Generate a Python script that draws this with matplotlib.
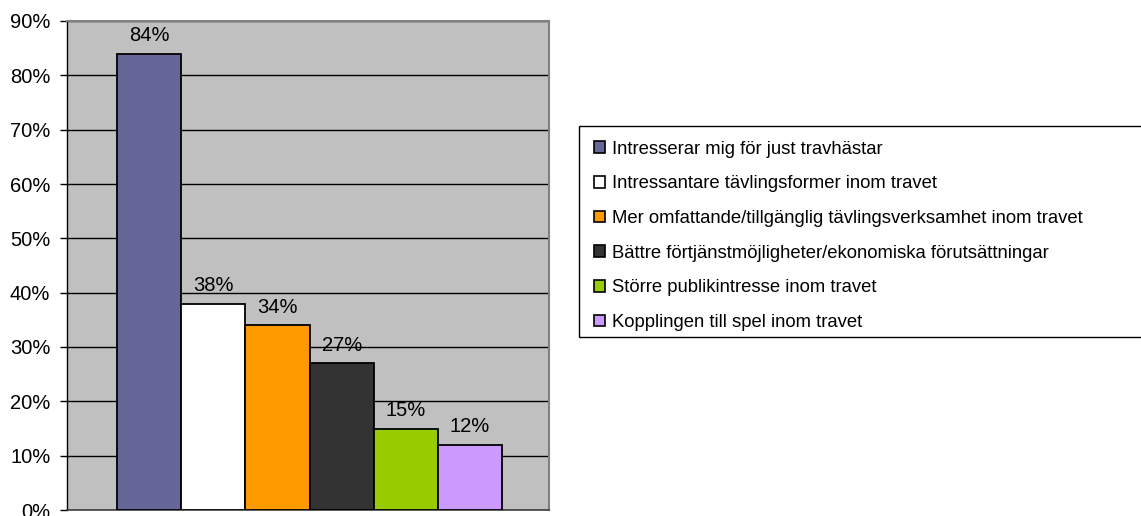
import matplotlib
matplotlib.use("Agg")
import matplotlib.pyplot as plt
from matplotlib.patches import Patch, Rectangle
from matplotlib.ticker import MultipleLocator, FuncFormatter

plt.rcParams['font.family'] = ['Liberation Sans', 'DejaVu Sans']

categories = [
    "Intresserar mig för just travhästar",
    "Intressantare tävlingsformer inom travet",
    "Mer omfattande/tillgänglig tävlingsverksamhet inom travet",
    "Bättre förtjänstmöjligheter/ekonomiska förutsättningar",
    "Större publikintresse inom travet",
    "Kopplingen till spel inom travet",
]
values = [84, 38, 34, 27, 15, 12]
colors = ["#666699", "#FFFFFF", "#FF9900", "#333333", "#99CC00", "#CC99FF"]

W, H = 1141, 516
fig = plt.figure(figsize=(W / 100, H / 100), dpi=100)
ax = fig.add_axes([67 / W, 6 / H, 482 / W, 489 / H])
ax.set_facecolor("#C0C0C0")

x = list(range(len(values)))
ax.bar(x, values, width=1.0, color=colors, edgecolor="black", linewidth=1.3, zorder=3)
for xi, v in zip(x, values):
    ax.text(xi, v + 1.6, f"{v}%", ha="center", va="bottom", fontsize=14.5, zorder=4)

ax.set_xlim(-1.28, 6.23)
ax.set_ylim(0, 90)
ax.yaxis.set_major_locator(MultipleLocator(10))
ax.yaxis.set_major_formatter(FuncFormatter(lambda v, p: f"{v:.0f}%"))
ax.tick_params(axis="y", direction="out", length=5, width=1, labelsize=14.5, pad=7)
ax.set_xticks([])
ax.grid(axis="y", color="black", linewidth=1, zorder=1)

for side in ("top", "right"):
    ax.spines[side].set_color("#808080")
    ax.spines[side].set_linewidth(1.5)
ax.spines["left"].set_color("black")
ax.spines["bottom"].set_color("#404040")
ax.spines["left"].set_linewidth(1)
ax.spines["bottom"].set_linewidth(1.2)

# legend box runs past the right edge of the figure
fig.patches.append(Rectangle((579 / W, 1 - 337 / H), 600 / W, 211 / H,
                             transform=fig.transFigure, facecolor="white",
                             edgecolor="black", linewidth=1, zorder=0))

handles = [Patch(facecolor=c, edgecolor="black", linewidth=1.2) for c in colors]
leg = fig.legend(handles, categories, loc="upper left",
                 bbox_to_anchor=(579 / W, 1 - 126 / H),
                 fontsize=13.3, frameon=False,
                 handlelength=0.6, handleheight=0.6,
                 handletextpad=0.4, labelspacing=0.957, borderpad=0.79,
                 borderaxespad=0)

fig.savefig("out.png", dpi=100)
